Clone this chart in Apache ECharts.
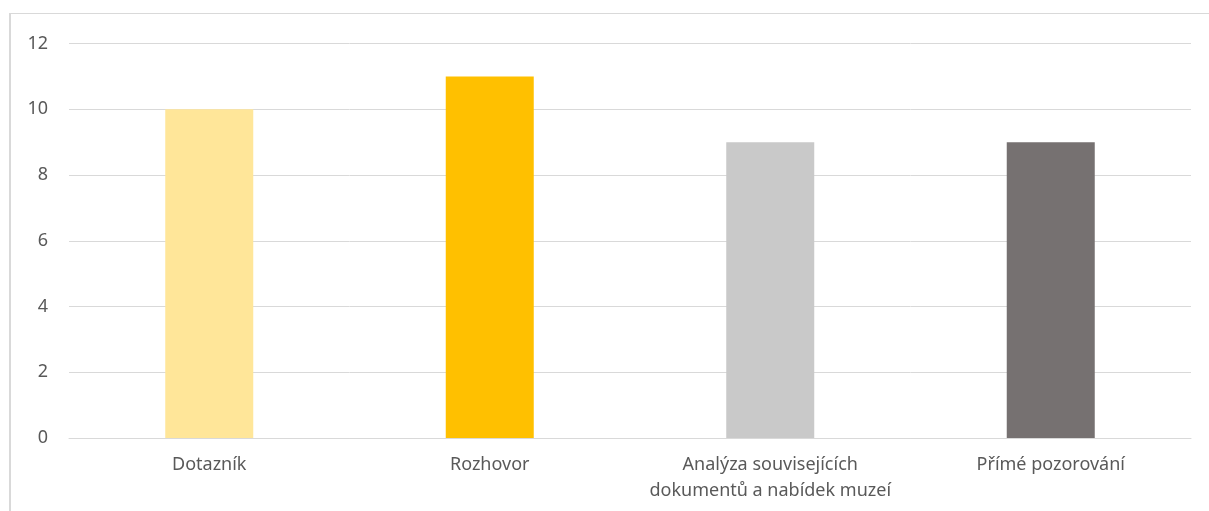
<!DOCTYPE html>
<html>
<head>
<meta charset="utf-8">
<script src="https://cdn.jsdelivr.net/npm/echarts@6/dist/echarts.min.js"></script>
<style>
  html, body { margin: 0; padding: 0; background: #ffffff; }
  #frame {
    position: absolute; left: 9px; top: 13px;
    width: 1200px; height: 498px;
    border-top: 1px solid #d9d9d9; border-left: 2px solid #d9d9d9;
    box-sizing: border-box;
  }
  #chart { width: 100%; height: 100%; }
</style>
</head>
<body>
<div id="frame"><div id="chart"></div></div>
<script>
// Research methods and how many times each was used
const categories = ['Dotazník', 'Rozhovor', 'Analýza souvisejících\ndokumentů a nabídek muzeí', 'Přímé pozorování'];
const counts = [10, 11, 9, 9];
const barColors = ['#FFE699', '#FFC000', '#C9C9C9', '#767171'];
const yTicks = [0, 2, 4, 6, 8, 10, 12];

const chart = echarts.init(document.getElementById('chart'), null, { renderer: 'canvas' });
chart.setOption({
  animation: false,
  textStyle: { fontFamily: 'Noto Sans', color: '#595959' },
  grid: { left: 58, right: 18, top: 29.5, bottom: 73 },
  xAxis: {
    type: 'category',
    data: categories,
    axisLine: { lineStyle: { color: '#d9d9d9', width: 1 } },
    axisTick: { show: false },
    axisLabel: { color: '#595959', fontSize: 18, margin: 14, lineHeight: 26, interval: 0 }
  },
  yAxis: {
    type: 'value',
    min: yTicks[0],
    max: yTicks[yTicks.length - 1],
    interval: 2,
    axisLine: { show: false },
    axisTick: { show: false },
    splitLine: { lineStyle: { color: '#d9d9d9', width: 1 } },
    axisLabel: { color: '#595959', fontSize: 18, margin: 21 }
  },
  series: [{
    type: 'bar',
    barWidth: 88,
    data: counts.map((v, i) => ({ value: v, itemStyle: { color: barColors[i] } }))
  }]
});
</script>
</body>
</html>
